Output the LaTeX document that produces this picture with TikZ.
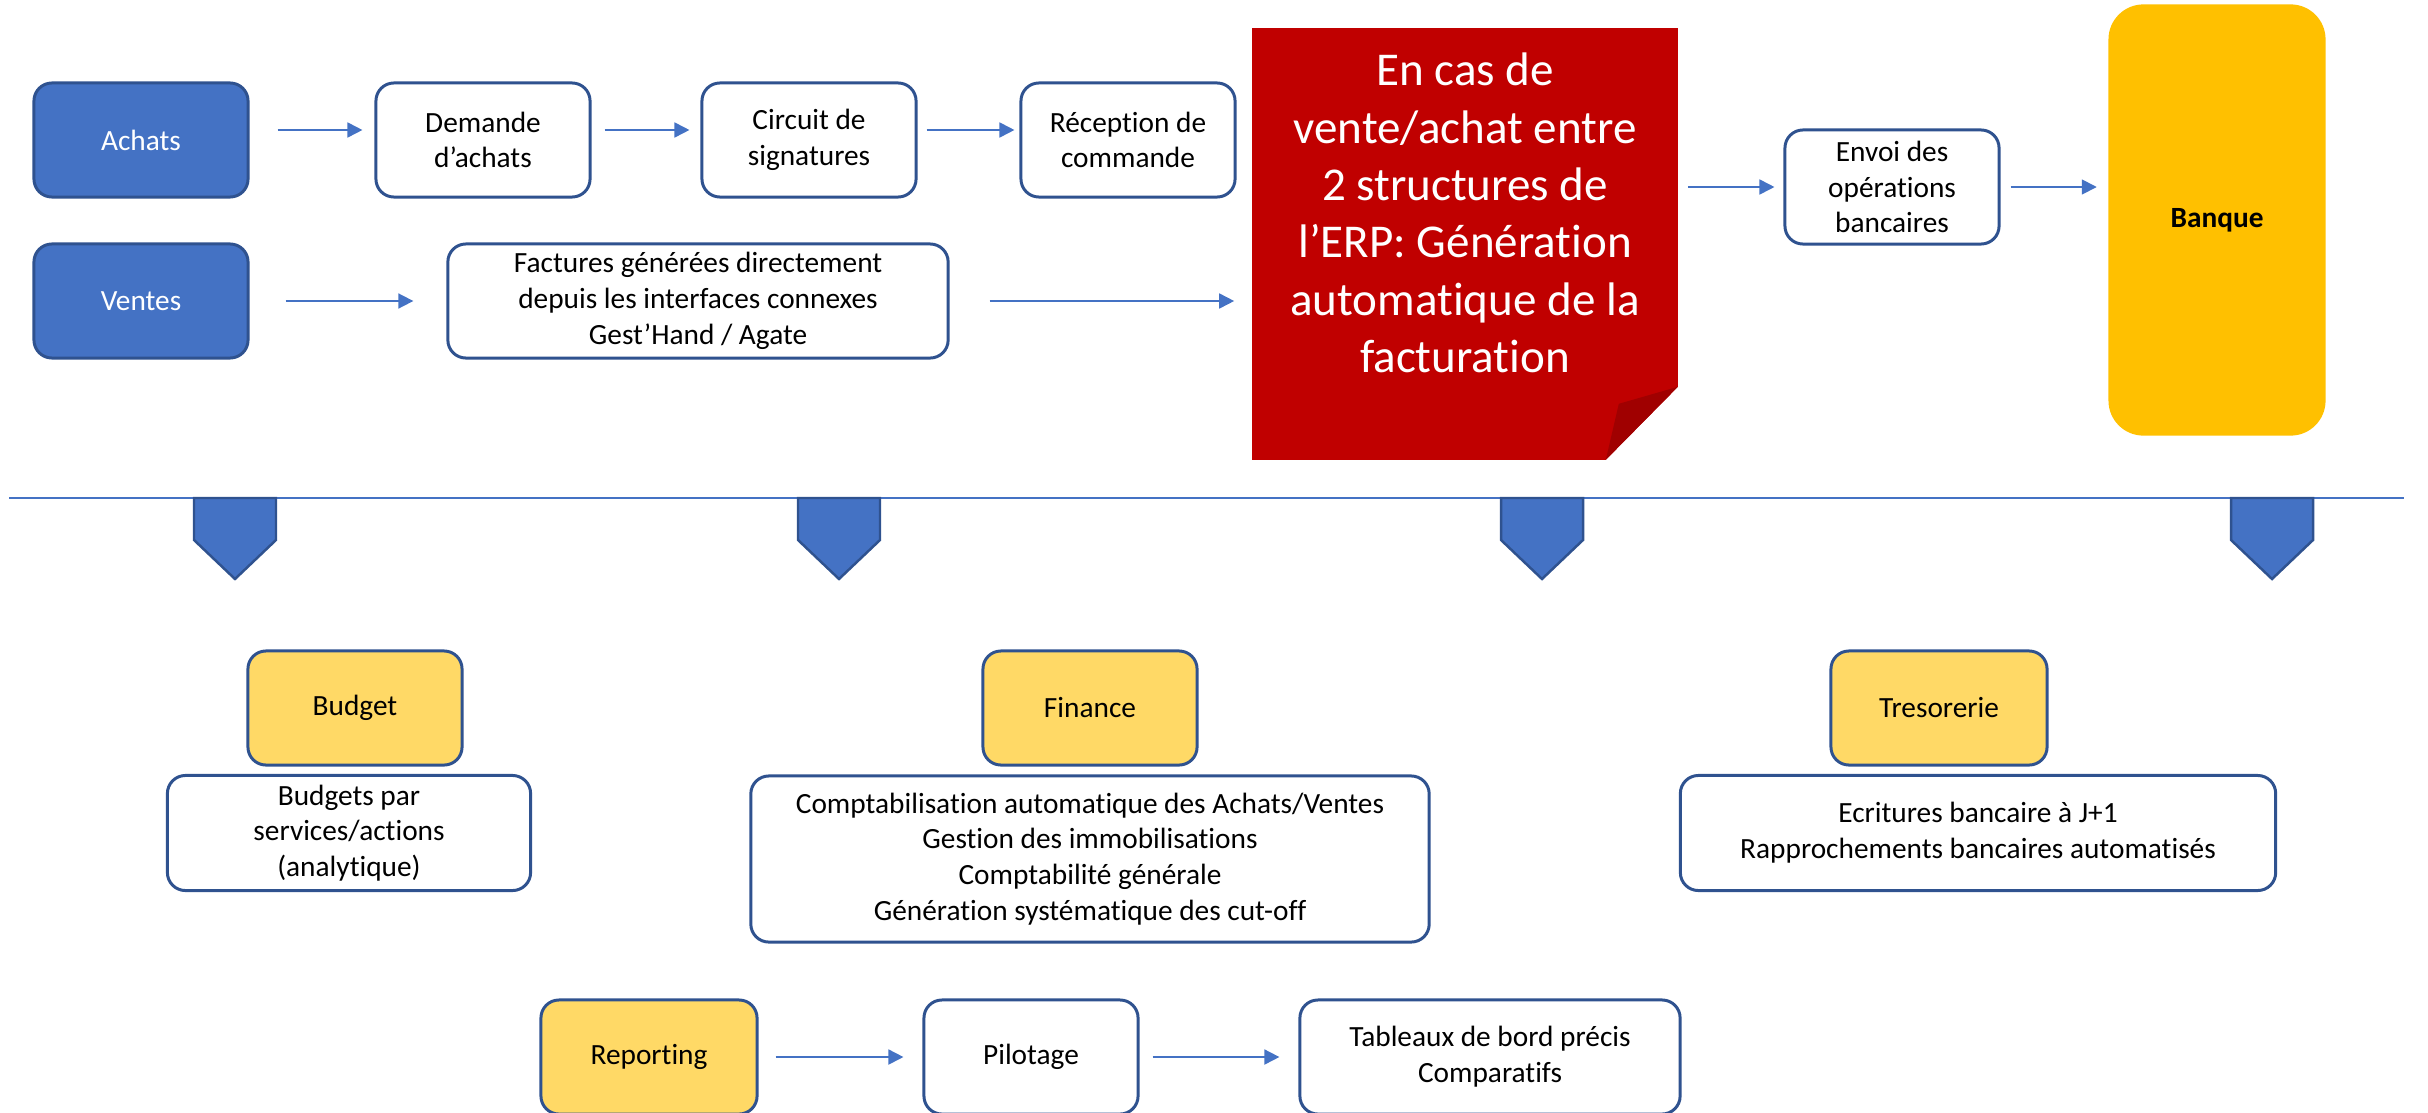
\documentclass[tikz,border=0pt]{standalone}
\usepackage{fontspec}
\setmainfont{Carlito}[Ligatures=CommonOff]
\usetikzlibrary{arrows.meta,backgrounds}
\definecolor{mblue}{HTML}{4472C4}
\definecolor{dblue}{HTML}{2F528F}
\definecolor{lgold}{HTML}{FFD966}
\definecolor{gold}{HTML}{FFC000}
\definecolor{nred}{HTML}{C00000}
\definecolor{dred}{HTML}{A00000}

\begin{document}
\begin{tikzpicture}
  [x=0.01cm,y=-0.01cm,
   every node/.style={font=\fontsize{8.34}{10.16}\selectfont,align=center,inner sep=0pt},
   bbox/.style={draw=dblue,line width=0.85pt,rounded corners=0.18cm,minimum width=2.14cm,minimum height=1.14cm},
   blk/.style={bbox,fill=mblue,text=white},
   wbox/.style={bbox,fill=white},
   ybox/.style={bbox,fill=lgold},
   arr/.style={draw=mblue,line width=0.5pt,-{Triangle[length=0.15cm,width=0.15cm]}},
   chev/.style={fill=mblue,draw=dblue,line width=0.7pt}]
  \useasboundingbox (0,0) rectangle (2428,1112);

  % top rows
  \node[blk] (achats) at (141,140) {Achats};
  \node[wbox] (demande) at (483,140) {Demande\\d’achats};
  \node[wbox] (circuit) at (809,140) {Circuit de\\signatures};
  \node[wbox] (reception) at (1128,140) {Réception de\\commande};
  \node[blk] (ventes) at (141,301) {Ventes};
  \node[wbox,minimum width=5cm] (factures) at (698,301) {Factures générées directement\\depuis les interfaces connexes\\Gest’Hand / Agate};
  \node[minimum width=4.24cm,minimum height=4.3cm] (note) at (1465,244) {};
  \node[text=white,font=\fontsize{13.38}{16.3}\selectfont] (notetext) at (1465,213) {En cas de\\vente/achat entre\\2 structures de\\l’ERP: Génération\\automatique de la\\facturation};
  \node[wbox] (envoi) at (1892,187) {Envoi des\\opérations\\bancaires};
  \node[fill=gold,rounded corners=0.35cm,minimum width=2.17cm,minimum height=4.31cm,font=\bfseries\fontsize{8.34}{10.16}\selectfont] (banque) at (2217,220) {Banque};

  \begin{scope}[on background layer]
    \fill[nred] (note.north west) -- (note.north east) -- ([yshift=0.73cm]note.south east)
      -- ([xshift=-0.72cm]note.south east) -- (note.south west) -- cycle;
    \fill[dred] ([yshift=0.73cm]note.south east) -- ([xshift=-0.59cm,yshift=0.56cm]note.south east)
      -- ([xshift=-0.72cm]note.south east) -- cycle;
  \end{scope}

  \foreach \from/\to/\s/\e in {achats/demande/.28/.12,demande/circuit/.13/.11,circuit/reception/.09/.05}
    \draw[arr,shorten <=\s cm,shorten >=\e cm] ([yshift=0.1cm]\from.east) -- ([yshift=0.1cm]\to.west);
  \draw[arr,shorten <=0.36cm,shorten >=0.33cm] (ventes) -- (factures);
  \draw[arr,shorten <=0.4cm,shorten >=0.18cm] (factures) -- (factures -| note.west);
  \draw[arr,shorten <=0.1cm,shorten >=0.09cm] (envoi -| note.east) -- (envoi);
  \draw[arr,shorten <=0.1cm,shorten >=0.11cm] (envoi) -- (envoi -| banque.west);

  % separator
  \draw[mblue,line width=0.6pt] (9,498) -- (2404,498);
  \foreach \x in {235,839,1542,2272}
    \draw[chev] (\x-41,498) -- (\x+41,498) -- (\x+41,540) -- (\x,579) -- (\x-41,540) -- cycle;

  % bottom part
  \node[ybox] (budget) at (355,708) {Budget};
  \node[wbox,minimum width=3.63cm,minimum height=1.15cm] (budgetdesc) at (349,833) {Budgets par\\services/actions\\(analytique)};
  \node[ybox] (finance) at (1090,708) {Finance};
  \node[wbox,minimum width=6.78cm,minimum height=1.66cm] (financedesc) at (1090,859) {Comptabilisation automatique des Achats/Ventes\\Gestion des immobilisations\\Comptabilité générale\\Génération systématique des cut-off};
  \node[ybox,minimum width=2.16cm] (treso) at (1939,708) {Tresorerie};
  \node[wbox,minimum width=5.95cm,minimum height=1.15cm] (tresodesc) at (1978,833) {Ecritures bancaire à J+1\\Rapprochements bancaires automatisés};

  \node[ybox,minimum width=2.16cm] (reporting) at (649,1057) {Reporting};
  \node[wbox] (pilotage) at (1031,1057) {Pilotage};
  \node[wbox,minimum width=3.8cm] (tableaux) at (1490,1057) {Tableaux de bord précis\\Comparatifs};
  \draw[arr,shorten <=0.17cm,shorten >=0.19cm] (reporting) -- (pilotage);
  \draw[arr,shorten <=0.13cm,shorten >=0.19cm] (pilotage) -- (tableaux);
\end{tikzpicture}
\end{document}
